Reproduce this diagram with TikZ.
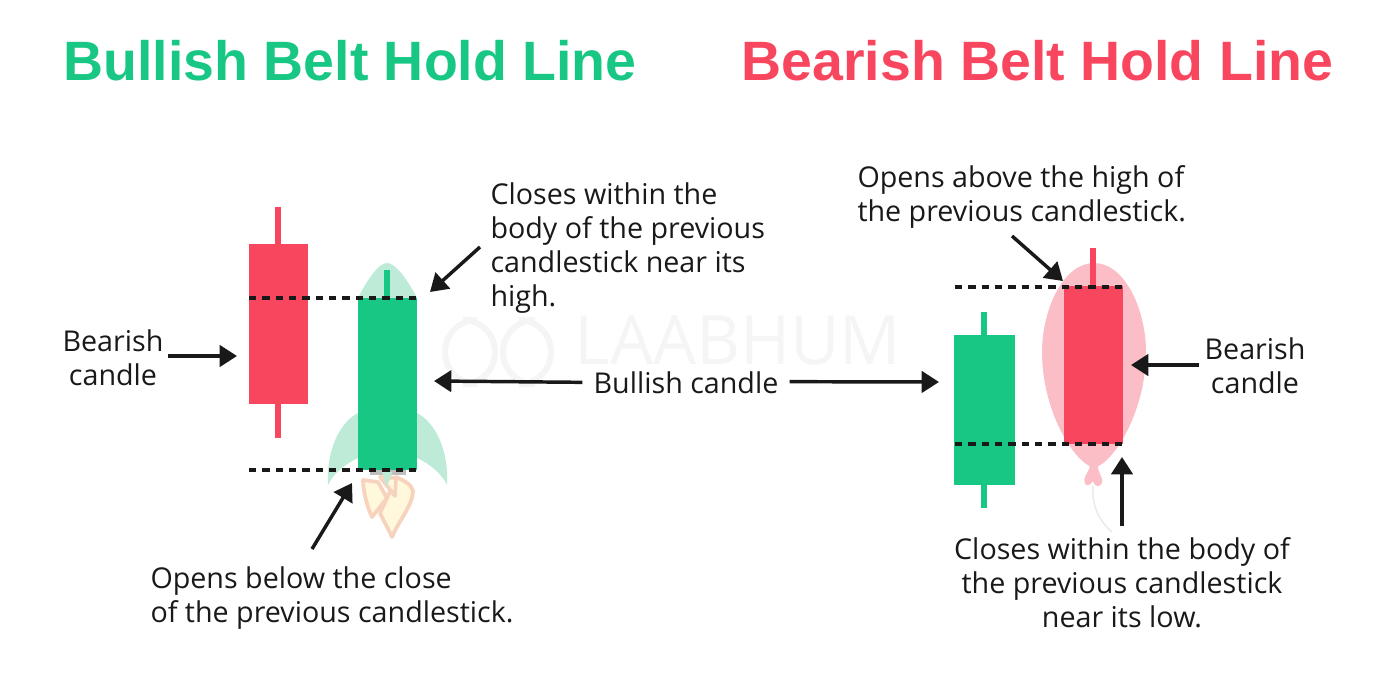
\documentclass[tikz,border=0pt]{standalone}
\usepackage{fontspec}
\setmainfont{Open Sans}
\newfontfamily\titlefont{Liberation Sans}
\usetikzlibrary{arrows.meta}
\definecolor{bullgreen}{HTML}{19C784}
\definecolor{bearred}{HTML}{F8465F}
\definecolor{rocketgreen}{HTML}{BDEBD8}
\definecolor{balloonpink}{HTML}{FBBEC7}
\definecolor{flameline}{HTML}{F7D2BC}
\definecolor{flamefill}{HTML}{FFF8DC}
\definecolor{markgray}{HTML}{F5F5F5}
\tikzset{every picture/.style={line width=0.75pt}}
\tikzset{
	lbl/.style={font=\fontsize{21.5}{25.5}\selectfont,text=black!90,inner sep=0pt,align=left},
	ttl/.style={font=\titlefont\bfseries\fontsize{41.6}{50}\selectfont,inner sep=0pt},
	arr/.style={-{Triangle[length=13pt,width=16pt]},line width=2.6pt,black!90},
	lvl/.style={line width=2.7pt,black!90,dash pattern=on 5.5pt off 4.5pt},
	wick/.style={line width=4.5pt},
	flame/.style={draw=flameline,fill=flamefill,line width=2.8pt,line join=round}
}
\begin{document}
\begin{tikzpicture}[x=0.75pt,y=-0.75pt]
	\useasboundingbox (0,0) rectangle (1400,700);
	%Watermark
	\node[font=\fontsize{51}{51}\selectfont,text=markgray,inner sep=0pt,text depth=0pt,text height=27pt] (markname) at (738,346) {LAABHUM};
	\draw[markgray,line width=4.5pt,rounded corners=24pt] (445,384) -- (445,320) -- (495,320) -- (495,384) -- cycle;
	\draw[markgray,line width=4.5pt,rounded corners=24pt] (503,384) -- (503,320) -- (551,320) -- (551,384) -- cycle;
	%Titles
	\node[ttl,text=bullgreen,anchor=base west] (titlebull) at (63,80) {Bullish Belt Hold Line};
	\node[ttl,text=bearred,anchor=base west] (titlebear) at (741,80) {Bearish Belt Hold Line};
	%Rocket
	\fill[rocketgreen] (358,298) .. controls (366,282) and (378,263) .. (387,263) .. controls (396,263) and (409,282) .. (417,298) -- cycle;
	\fill[rocketgreen] (358,413) .. controls (340,422) and (326,450) .. (328,485) .. controls (333,474) and (345,464) .. (358,458) -- cycle;
	\fill[rocketgreen] (417,413) .. controls (435,422) and (449,450) .. (447,485) .. controls (442,474) and (430,464) .. (417,458) -- cycle;
	\fill[black!25] (370,470) rectangle (406,475);
	\filldraw[flame] (396,477) .. controls (405,481) and (412,485) .. (413,491) .. controls (413,505) and (398,522) .. (392,537) .. controls (388,528) and (383,520) .. (380,513) -- (387,498) -- cycle;
	\filldraw[flame] (363,480) .. controls (363,490) and (367,507) .. (372,517) -- (387,498) -- (378,482) -- cycle;
	\filldraw[flame] (380,477) -- (395,496) -- (396,478) -- cycle;
	\fill[rocketgreen] (382,472) -- (392,472) -- (387,487) -- cycle;
	%Balloon
	\fill[balloonpink] (1094,263) .. controls (1125,263) and (1146,310) .. (1146,352) .. controls (1146,410) and (1115,462) .. (1094,468) .. controls (1073,462) and (1042,410) .. (1042,352) .. controls (1042,310) and (1063,263) .. (1094,263) -- cycle;
	\fill[balloonpink] (1090,466) .. controls (1088,474) and (1082,478) .. (1085,484) .. controls (1088,487) and (1091,484) .. (1093,481) .. controls (1095,488) and (1100,487) .. (1102,483) .. controls (1104,478) and (1098,474) .. (1098,466) -- cycle;
	\draw[black!8,line width=1.2pt] (1093,486) .. controls (1092,505) and (1098,520) .. (1112,532);
	%Candles left
	\draw[wick,bearred] (278,207) -- (278,438);
	\fill[bearred] (249,244) rectangle (308,404);
	\draw[wick,bullgreen] (387,270) -- (387,298);
	\fill[bullgreen] (358,298) rectangle (417,470);
	%Candles right
	\draw[wick,bullgreen] (984,312) -- (984,508);
	\fill[bullgreen] (954,335) rectangle (1015,485);
	\draw[wick,bearred] (1093,248) -- (1093,286);
	\fill[bearred] (1064,286) rectangle (1123,444);
	%Dashed levels
	\coordinate (lhigh) at (249,298);
	\coordinate (llow) at (249,470);
	\coordinate (rhigh) at (955,287);
	\coordinate (rlow) at (955,444);
	\coordinate (lhighend) at (417,298);
	\coordinate (llowend) at (417,470);
	\coordinate (rhighend) at (1123,287);
	\coordinate (rlowend) at (1123,444);
	\draw[lvl] (lhigh) -- (lhighend);
	\draw[lvl] (llow) -- (llowend);
	\draw[lvl] (rhigh) -- (rhighend);
	\draw[lvl] (rlow) -- (rlowend);
	%Labels
	\node[lbl,align=center,anchor=center] (bearleft) at (113,358) {Bearish\\candle};
	\node[lbl,anchor=north west] (closeshigh) at (490,182) {Closes within the\\body of the previous\\candlestick near its\\high.};
	\node[lbl,anchor=center] (bullish) at (686,383) {Bullish candle};
	\node[lbl,anchor=north west] (opensbelow) at (150,566) {Opens below the close\\of the previous candlestick.};
	\node[lbl,anchor=north west] (opensabove) at (857,165) {Opens above the high of\\the previous candlestick.};
	\node[lbl,align=center,anchor=center] (bearright) at (1255,366) {Bearish\\candle};
	\node[lbl,align=center,anchor=north] (closeslow) at (1122,537) {Closes within the body of\\the previous candlestick\\near its low.};
	%Arrows
	\coordinate (a1s) at (168,356);
	\coordinate (a1e) at (237,356);
	\coordinate (a2s) at (480,247);
	\coordinate (a2e) at (430,292);
	\coordinate (a3e) at (434,381);
	\coordinate (a4e) at (939,382);
	\coordinate (a5s) at (312,549);
	\coordinate (a5e) at (352,483);
	\coordinate (a6s) at (1012,236);
	\coordinate (a6e) at (1063,281);
	\coordinate (a7s) at (1199,365);
	\coordinate (a7e) at (1131,365);
	\coordinate (a8s) at (1122,526);
	\coordinate (a8e) at (1122,457);
	\draw[arr] (a1s) -- (a1e);
	\draw[arr] (a2s) -- (a2e);
	\draw[arr] ([xshift=-8pt,yshift=0.5pt]bullish.west) -- (a3e);
	\draw[arr] ([xshift=8pt,yshift=1pt]bullish.east) -- (a4e);
	\draw[arr] (a5s) -- (a5e);
	\draw[arr] (a6s) -- (a6e);
	\draw[arr] (a7s) -- (a7e);
	\draw[arr] (a8s) -- (a8e);
\end{tikzpicture}
\end{document}
